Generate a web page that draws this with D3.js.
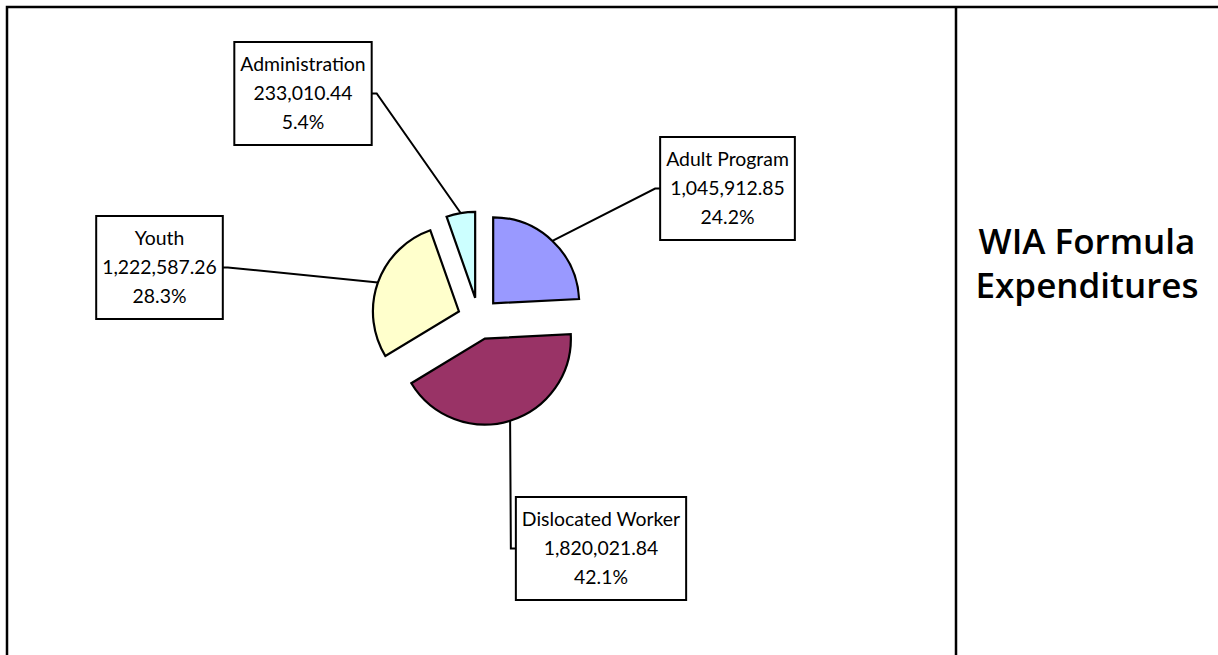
<!DOCTYPE html>
<html lang="en">
<head>
<meta charset="UTF-8">
<title>WIA Formula Expenditures</title>
<script src="https://cdn.jsdelivr.net/npm/d3@7"></script>
<style>
  body { margin: 0; background: #ffffff; }
  svg { display: block; }
  .lbl { font-family: Lato, "Noto Sans", sans-serif; font-size: 19.4px; fill: #000; }
  .title { font-family: "Open Sans", Lato, sans-serif; font-weight: 600; font-size: 35px; fill: #000; }
</style>
</head>
<body>
<svg id="chart"></svg>
<script>
  // chart data
  const categories = ["Adult Program", "Dislocated Worker", "Youth", "Administration"];
  const amounts = [1045912.85, 1820021.84, 1222587.26, 233010.44];
  const titleLines = ["WIA Formula", "Expenditures"];

  const width = 1218;
  const height = 655;
  const divider = 956;

  const svg = d3.select("#chart").attr("width", width).attr("height", height);

  // frame around chart and title panel
  svg.append("path")
    .attr("d", `M7,${height}V7H${width}`)
    .attr("fill", "none")
    .attr("stroke", "#000")
    .attr("stroke-width", 2.5);
  svg.append("line")
    .attr("x1", divider).attr("x2", divider)
    .attr("y1", 7).attr("y2", height)
    .attr("stroke", "#000")
    .attr("stroke-width", 2.5);

  // title
  const title = svg.append("text")
    .attr("class", "title")
    .attr("text-anchor", "middle");
  titleLines.forEach((t, i) => {
    title.append("tspan")
      .attr("x", (divider + width) / 2)
      .attr("y", 254 + i * 44)
      .text(t);
  });

  // pie
  const center = [478.7, 318.5];
  const radius = 86;
  const explode = 21;

  const color = d3.scaleOrdinal()
    .domain(categories)
    .range(["#9999ff", "#993366", "#ffffcc", "#ccffff"]);

  const data = categories.map((c, i) => ({ name: c, amount: amounts[i] }));
  const total = d3.sum(amounts);
  const pie = d3.pie().sort(null).value(d => d.amount);
  const arc = d3.arc().innerRadius(0).outerRadius(radius);
  const arcs = pie(data);

  const mid = d => (d.startAngle + d.endAngle) / 2;
  const shift = d => [Math.sin(mid(d)) * explode, -Math.cos(mid(d)) * explode];
  // point on the outer edge of an exploded slice, at its middle angle
  const edgePoint = d => {
    const [sx, sy] = shift(d);
    return [center[0] + sx + Math.sin(mid(d)) * radius, center[1] + sy - Math.cos(mid(d)) * radius];
  };

  // label box placement (centre x, top y, which side the leader leaves from)
  const boxes = {
    "Adult Program": { cx: 727.5, top: 137, side: "left" },
    "Dislocated Worker": { cx: 601, top: 497, side: "left" },
    "Youth": { cx: 159.5, top: 216, side: "right" },
    "Administration": { cx: 303, top: 42, side: "right" }
  };
  const boxHeight = 103;
  const lineHeight = 29;
  const fmtAmount = d3.format(",.2f");
  const fmtPct = d3.format(".1%");

  const leaders = svg.append("g");
  const labels = svg.append("g");

  arcs.forEach(d => {
    const b = boxes[d.data.name];
    const lines = [d.data.name, fmtAmount(d.data.amount), fmtPct(d.data.amount / total)];
    const lg = labels.append("g");
    const rect = lg.append("rect")
      .attr("fill", "#fff")
      .attr("stroke", "#000")
      .attr("stroke-width", 2);
    const txt = lg.append("text")
      .attr("class", "lbl")
      .attr("text-anchor", "middle");
    lines.forEach((l, i) => {
      txt.append("tspan")
        .attr("x", b.cx)
        .attr("y", b.top + 29 + i * lineHeight)
        .text(l);
    });
    let w = 0;
    txt.selectAll("tspan").each(function() { w = Math.max(w, this.getComputedTextLength()); });
    w += 12;
    rect.attr("x", b.cx - w / 2).attr("y", b.top).attr("width", w).attr("height", boxHeight);

    const ex = b.side === "left" ? b.cx - w / 2 : b.cx + w / 2;
    const ey = b.top + boxHeight / 2;
    const hx = b.side === "left" ? ex - 5 : ex + 5;
    const p = edgePoint(d);
    leaders.append("path")
      .attr("d", d3.line()([[ex, ey], [hx, ey], p]))
      .attr("fill", "none")
      .attr("stroke", "#000")
      .attr("stroke-width", 2);
  });

  svg.append("g")
    .attr("transform", `translate(${center})`)
    .selectAll("path")
    .data(arcs)
    .enter().append("path")
    .attr("transform", d => `translate(${shift(d)})`)
    .attr("d", arc)
    .attr("fill", d => color(d.data.name))
    .attr("stroke", "#000")
    .attr("stroke-width", 2.2);
</script>
</body>
</html>
